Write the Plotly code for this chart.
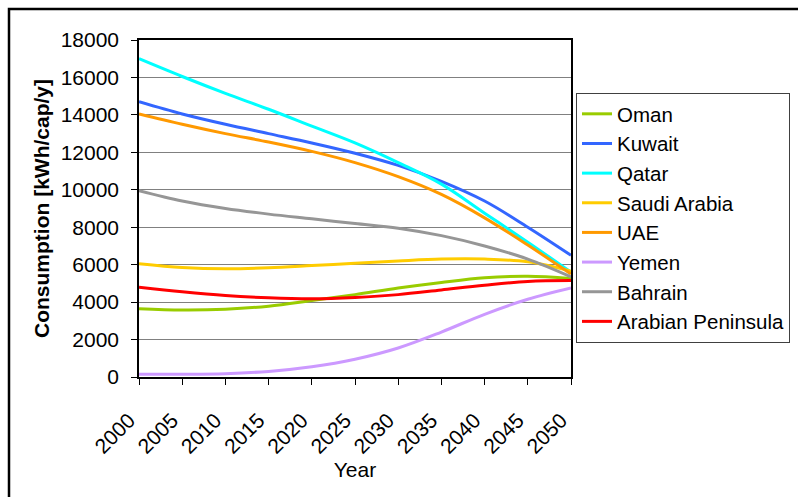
import plotly.graph_objects as go

years = [2000, 2005, 2010, 2015, 2020, 2025, 2030, 2035, 2040, 2045, 2050]

oman = [3650, 3580, 3620, 3780, 4080, 4400, 4750, 5050, 5300, 5380, 5260]
kuwait = [14700, 14050, 13500, 13000, 12500, 11950, 11300, 10450, 9400, 8000, 6500]
qatar = [17000, 16050, 15150, 14300, 13400, 12500, 11450, 10300, 8750, 7200, 5600]
saudi = [6050, 5850, 5780, 5830, 5950, 6080, 6200, 6300, 6300, 6150, 5650]
uae = [14050, 13500, 13000, 12550, 12050, 11450, 10700, 9750, 8500, 7050, 5500]
yemen = [150, 150, 180, 300, 550, 950, 1550, 2400, 3350, 4150, 4750]
bahrain = [9950, 9400, 9000, 8700, 8450, 8200, 7950, 7550, 7000, 6300, 5350]
peninsula = [4800, 4550, 4350, 4230, 4180, 4250, 4400, 4650, 4900, 5100, 5150]

series = [
    ("Oman", oman, "#99CC00"),
    ("Kuwait", kuwait, "#3366FF"),
    ("Qatar", qatar, "#00FFFF"),
    ("Saudi Arabia", saudi, "#FFCC00"),
    ("UAE", uae, "#FF9900"),
    ("Yemen", yemen, "#CC99FF"),
    ("Bahrain", bahrain, "#969696"),
    ("Arabian Peninsula", peninsula, "#FF0000"),
]

font_family = "Liberation Sans, Arial, sans-serif"

fig = go.Figure()
for name, vals, color in series:
    fig.add_trace(go.Scatter(
        x=years, y=vals, name=name, mode="lines",
        line=dict(color=color, width=3, shape="spline", smoothing=1.0),
    ))

W, H = 798, 497
L, R, T, B = 139, 571, 40, 377

def px2paper_x(px):
    return (px - L) / (R - L)

def px2paper_y(py):
    return (B - py) / (B - T)

fig.update_layout(
    width=W, height=H,
    margin=dict(l=L, r=W - R, t=T, b=H - B),
    paper_bgcolor="white",
    plot_bgcolor="white",
    font=dict(family=font_family, size=21, color="black"),
    showlegend=True,
    legend=dict(
        xref="container", yref="paper",
        x=790 / W, y=px2paper_y(93),
        xanchor="right", yanchor="top",
        bordercolor="#404040", borderwidth=1,
        font=dict(size=20.5, family=font_family),
        bgcolor="white",
        tracegroupgap=0,
        maxheight=400,
    ),
    xaxis=dict(
        range=[2000, 2050], tickmode="linear", tick0=2000, dtick=5,
        tickformat="d",
        tickangle=-45, ticks="outside", ticklen=6, tickcolor="black",
        ticklabelstandoff=15, ticklabelshift=-10,
        showgrid=False, showline=True, linecolor="black", linewidth=1.5,
        mirror=True, zeroline=False,
        title=dict(text="Year", font=dict(size=21), standoff=6),
        automargin=False,
    ),
    yaxis=dict(
        range=[0, 18000], tickmode="linear", tick0=0, dtick=2000,
        tickformat="d",
        ticks="outside", ticklen=6, tickcolor="black",
        showgrid=True, gridcolor="#808080", gridwidth=1,
        showline=True, linecolor="black", linewidth=1.5, mirror=True,
        zeroline=False, ticklabelstandoff=8,
        title=dict(text="<b>Consumption [kWh/cap/y]</b>", font=dict(size=21), standoff=5),
        automargin=False,
    ),
    shapes=[dict(
        type="rect", xref="paper", yref="paper",
        x0=px2paper_x(9), y0=px2paper_y(560),
        x1=px2paper_x(900), y1=px2paper_y(9),
        line=dict(color="black", width=2.5), fillcolor="rgba(0,0,0,0)",
        layer="below",
    )],
)

fig.write_html(
    "out.html",
    config={"displayModeBar": False},
    post_script="document.body.style.margin='0px';document.body.style.overflow='hidden';",
)
